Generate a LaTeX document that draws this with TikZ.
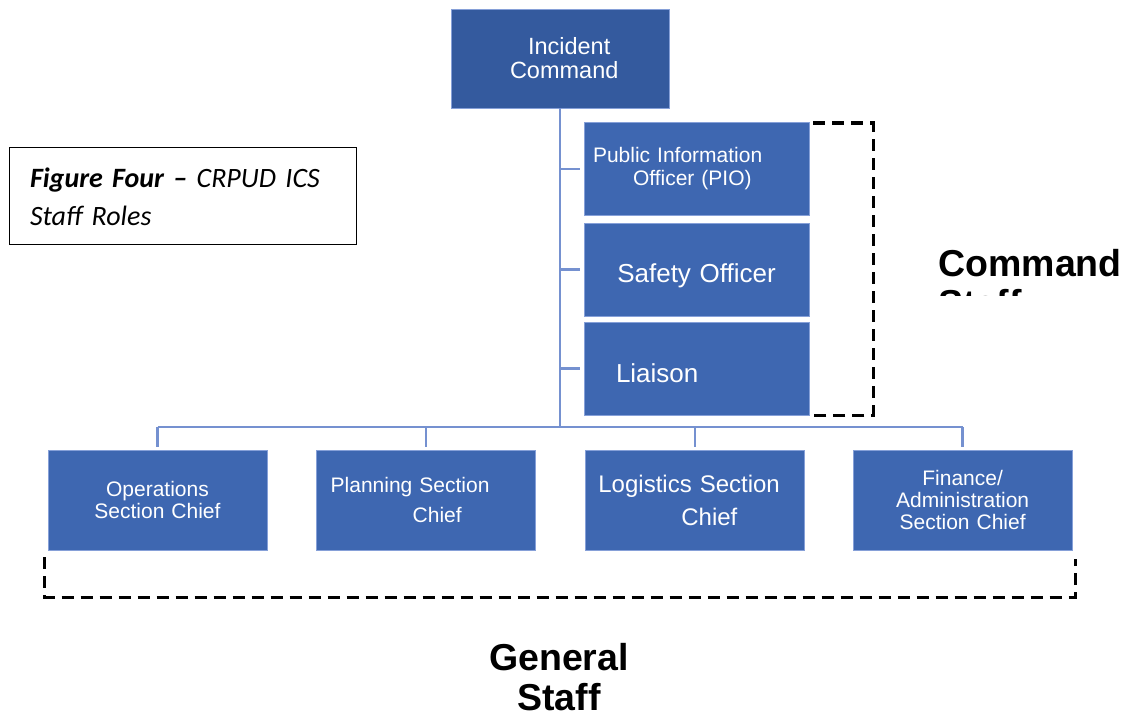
\documentclass[tikz,border=0pt]{standalone}
\usepackage{fontspec}
\setmainfont{Liberation Sans}
\newfontfamily\capfont{Carlito}
\usetikzlibrary{positioning}

\definecolor{icblue}{HTML}{345A9E}
\definecolor{boxblue}{HTML}{3E67B1}
\definecolor{edgeblue}{HTML}{86A0D8}
\definecolor{linkblue}{HTML}{7591D0}
\newcommand{\boxfont}[2]{\fontsize{#1}{#2}\selectfont}

\begin{document}
\begin{tikzpicture}[x=1pt,y=-1pt,node distance=49pt,thick]
      \tikzstyle{box}=[draw=edgeblue,line width=0.7pt,fill=boxblue,text=white,inner sep=0pt,align=left]
      \tikzstyle{staff}=[box,minimum width=225pt,text width=225pt,minimum height=93pt]
      \tikzstyle{chief}=[box,minimum width=219pt,text width=219pt,minimum height=100pt]
      \tikzstyle{link}=[draw=linkblue,line width=2.5pt]
      \tikzstyle{bracket}=[draw=black,line width=3.5pt,dash pattern=on 12pt off 7pt]
      \tikzstyle{heading}=[font=\boxfont{37.5}{40}\bfseries,inner sep=0pt]

      \useasboundingbox (0,0) rectangle (1125,719);

      \node[box,fill=icblue,minimum width=218pt,text width=218pt,minimum height=99pt,
            font=\boxfont{23.5}{24}] (ic) at (560,58.5)
            {\hspace*{77pt}Incident\\\hspace*{59pt}Command};

      \node[staff,font=\boxfont{21}{23}] (pio) at (696.5,169)
            {\hspace*{9pt}Public Information\\\hspace*{49pt}Officer (PIO)};
      \node[staff,below=7pt of pio,font=\boxfont{26}{28},align=center,
            text height=30pt,text depth=5pt] (safety) {Safety Officer};
      \node[staff,below=5pt of safety,font=\boxfont{26}{28},
            text height=33pt,text depth=5pt] (liaison) {\hspace*{32pt}Liaison};

      \node[chief,font=\boxfont{21}{22},align=center] (ops) at (157.5,500) {Operations\\Section Chief};
      \node[chief,right=of ops,font=\boxfont{21}{30}] (plan)
            {\hspace*{14pt}Planning Section\\\hspace*{96pt}Chief};
      \node[chief,right=49pt of plan,font=\boxfont{24}{33}] (logi)
            {\hspace*{13pt}Logistics Section\\\hspace*{96pt}Chief};
      \node[chief,right=48pt of logi,font=\boxfont{21}{22},align=center] (fin)
            {Finance/\\Administration\\Section Chief};

      \node[draw,line width=1pt,minimum width=347pt,minimum height=97pt,inner xsep=21pt,
            text width=305pt,align=left,font=\capfont\boxfont{28}{38}\itshape] (caption) at (182.5,196.5)
            {{\bfseries Figure Four –} CRPUD ICS\\Staff Roles};

      % connectors
      \coordinate (hub) at (560,427);
      \draw[link] (ic.south) -- (hub);
      \foreach \n in {pio,safety,liaison}
        \draw[link,shorten >=4pt] (ic.south |- \n.west) -- (\n.west);
      \draw[link] (ops.north |- hub) -- (fin.north |- hub);
      \foreach \n in {ops,plan,logi,fin}
        \draw[link,shorten >=3pt] (\n.north |- hub) -- (\n.north);

      % dashed groups
      \draw[bracket] ([shift={(4,1)}]pio.north east) -- ++(60,0) |- ([xshift=4pt]liaison.south east);
      \draw[bracket] ([shift={(-3,7)}]ops.south west) |- ([shift={(3,47)}]fin.south east)
                     -- ([shift={(3,9)}]fin.south east);

      \begin{scope}
        \clip (900,230) rectangle (1125,296);
        \node[heading,align=left,anchor=base west] (cmd) at (938,317) {Command\\Staff};
      \end{scope}
      \node[heading,align=center,anchor=base] (general) at (559,710) {General\\Staff};

\end{tikzpicture}
\end{document}
